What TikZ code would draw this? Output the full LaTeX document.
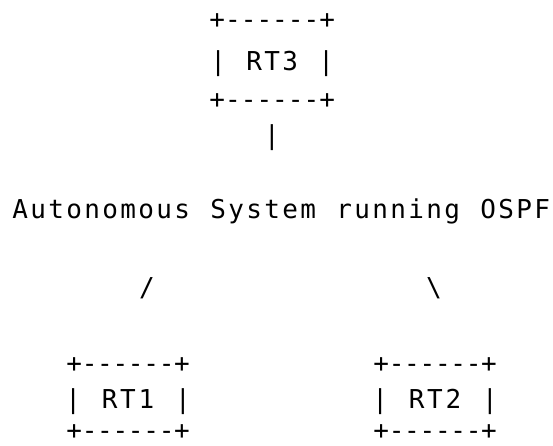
\documentclass[tikz,border=0pt]{standalone}
\usepackage{fontspec}
\newfontfamily\asciifont{DejaVu Sans Mono}

% Set a string on a fixed-pitch grid: each character sits centred in a cell of equal width.
\newlength\cellpitch
\let\gridend\relax
\newcommand\gridtext[2]{\setlength\cellpitch{#1}\gridloop#2\gridend}
\def\gridloop#1{\ifx#1\gridend\else\makebox[\cellpitch]{#1}\expandafter\gridloop\fi}

\begin{document}
\begin{tikzpicture}[x=1pt,y=-1pt,
  row/.style={anchor=base west,inner sep=0pt,
    font=\asciifont\fontsize{26pt}{26pt}\selectfont},
  glyph/.style={anchor=base,inner sep=0pt,
    font=\asciifont\fontsize{26pt}{26pt}\selectfont}]
\useasboundingbox (0,0) rectangle (553,445);

% RT3 box
\node[row] (rt3top) at (209.2,28)  {\gridtext{15.7pt}{+------+}};
\node[row] (rt3)    at (209,70)    {\gridtext{18pt}{|~RT3~|}};
\node[row] (rt3bot) at (209.2,108) {\gridtext{15.7pt}{+------+}};
\node[glyph] (link3) at (272,144) {|};

% the autonomous system
\node[row] (as) at (11,218) {\gridtext{18pt}{Autonomous~System~running~OSPF}};

\node[glyph] (link1) at (147,296) {/};
\node[glyph] (link2) at (434,296) {\textbackslash};

% RT1 box
\node[row] (rt1top) at (66.3,372) {\gridtext{15.4pt}{+------+}};
\node[row] (rt1)    at (63.8,408) {\gridtext{18.3pt}{|~RT1~|}};
\node[row] (rt1bot) at (66.3,439) {\gridtext{15.4pt}{+------+}};

% RT2 box
\node[row] (rt2top) at (373.3,372) {\gridtext{15.4pt}{+------+}};
\node[row] (rt2)    at (370.8,408) {\gridtext{18.3pt}{|~RT2~|}};
\node[row] (rt2bot) at (373.3,439) {\gridtext{15.4pt}{+------+}};
\end{tikzpicture}
\end{document}
